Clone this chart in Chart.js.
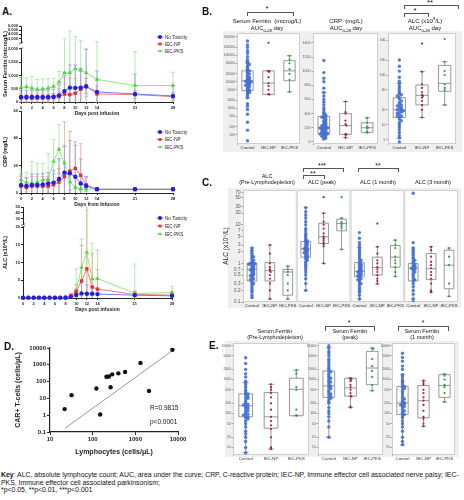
<!DOCTYPE html>
<html>
<head>
<meta charset="utf-8">
<script src="https://cdn.jsdelivr.net/npm/chart.js@4.4.0/dist/chart.umd.min.js"></script>
<style>
body { margin: 0; background: #fff; }
#fig { position: relative; width: 464px; height: 500px; overflow: hidden; font-family: "Liberation Sans", Arial, sans-serif; color: #111; }
#fig canvas { position: absolute; }
.t { position: absolute; white-space: nowrap; line-height: 1; }
.c { transform: translateX(-50%); text-align: center; }
.bg { position: absolute; background: #efefef; }
.br { position: absolute; border: 1px solid #555; border-bottom: none; }
.lt { position: absolute; font-weight: bold; font-size: 10px; }
sub, sup { font-size: 70%; line-height: 0; }
</style>
</head>
<body>
<div id="fig">
  <div class="bg" style="left:223px;top:31px;width:239px;height:121px"></div>
  <div class="bg" style="left:228px;top:188px;width:233px;height:120px"></div>
  <div class="bg" style="left:225px;top:341px;width:234px;height:116px"></div>

  <canvas id="a1" width="190" height="98" style="left:0;top:20px"></canvas>
  <canvas id="a2" width="190" height="104" style="left:0;top:105px"></canvas>
  <canvas id="a3" width="190" height="113" style="left:0;top:201px"></canvas>
  <canvas id="b1" width="82" height="128" style="left:222px;top:28px"></canvas>
  <canvas id="b2" width="84" height="128" style="left:298px;top:28px"></canvas>
  <canvas id="b3" width="87" height="128" style="left:373px;top:28px"></canvas>
  <canvas id="c1" width="240" height="124" style="left:222px;top:186px"></canvas>
  <canvas id="d1" width="178" height="118" style="left:12px;top:340px"></canvas>
  <canvas id="e1" width="91" height="128" style="left:222px;top:338px"></canvas>
  <canvas id="e2" width="81" height="128" style="left:306px;top:338px"></canvas>
  <canvas id="e3" width="79" height="128" style="left:380px;top:338px"></canvas>

  <div class="lt" style="left:2px;top:6px">A.</div>
  <div class="lt" style="left:202px;top:6px">B.</div>
  <div class="lt" style="left:202px;top:177px">C.</div>
  <div class="lt" style="left:4px;top:341px">D.</div>
  <div class="lt" style="left:209px;top:340px">E.</div>

  <!-- B titles and brackets -->
  <div class="t c" style="left:267px;top:5px;font-size:8px">*</div>
  <div class="br" style="left:247px;top:12px;width:45px;height:3px"></div>
  <div class="t c" style="left:430px;top:-1px;font-size:8px">**</div>
  <div class="br" style="left:404px;top:5px;width:53px;height:3px"></div>
  <div class="t c" style="left:415px;top:7px;font-size:8px">*</div>
  <div class="br" style="left:404px;top:13px;width:23px;height:3px"></div>
  <div class="t c" style="left:267px;top:18px;font-size:6px">Serum Ferritin&nbsp; (microg/L)</div>
  <div class="t c" style="left:267px;top:25px;font-size:6px">AUC<sub>0-28</sub> day</div>
  <div class="t c" style="left:346px;top:18px;font-size:6px">CRP&nbsp; (mg/L)</div>
  <div class="t c" style="left:346px;top:25px;font-size:6px">AUC<sub>0-28</sub> day</div>
  <div class="t c" style="left:425px;top:18px;font-size:6px">ALC (x10<sup>9</sup>/L)</div>
  <div class="t c" style="left:425px;top:25px;font-size:6px">AUC<sub>0-28</sub> day</div>

  <!-- C titles and brackets -->
  <div class="t c" style="left:322px;top:162px;font-size:7px">***</div>
  <div class="br" style="left:303px;top:168px;width:39px;height:3px"></div>
  <div class="t c" style="left:313px;top:170px;font-size:7px">**</div>
  <div class="br" style="left:303px;top:175px;width:20px;height:3px"></div>
  <div class="t c" style="left:378px;top:162px;font-size:7px">**</div>
  <div class="br" style="left:358px;top:168px;width:39px;height:3px"></div>
  <div class="t c" style="left:267px;top:174px;font-size:5.5px">ALC</div>
  <div class="t c" style="left:267px;top:180px;font-size:5.5px">(Pre-Lymphodepletion)</div>
  <div class="t c" style="left:322px;top:180px;font-size:5.5px">ALC (peak)</div>
  <div class="t c" style="left:378px;top:180px;font-size:5.5px">ALC (1 month)</div>
  <div class="t c" style="left:433px;top:180px;font-size:5.5px">ALC (3 month)</div>

  <!-- E titles and brackets -->
  <div class="t c" style="left:349px;top:319px;font-size:7px">*</div>
  <div class="br" style="left:325px;top:326px;width:48px;height:4px"></div>
  <div class="t c" style="left:423px;top:319px;font-size:7px">*</div>
  <div class="br" style="left:398px;top:326px;width:49px;height:4px"></div>
  <div class="t c" style="left:275px;top:329px;font-size:5.5px">Serum Ferritin</div>
  <div class="t c" style="left:275px;top:335px;font-size:5.5px">(Pre-Lymphodepletion)</div>
  <div class="t c" style="left:350px;top:329px;font-size:5.5px">Serum Ferritin</div>
  <div class="t c" style="left:350px;top:335px;font-size:5.5px">(peak)</div>
  <div class="t c" style="left:422px;top:329px;font-size:5.5px">Serum Ferritin</div>
  <div class="t c" style="left:422px;top:335px;font-size:5.5px">(1 month)</div>

  <!-- D annotations -->
  <div class="t" style="left:150px;top:405px;font-size:6.5px">R=0.9815</div>
  <div class="t" style="left:150px;top:419px;font-size:6.5px">p&lt;0.0001</div>

  <!-- key -->
  <div class="t" style="left:1px;top:472px;font-size:6.9px"><b>Key</b>: ALC, absolute lymphocyte count; AUC, area under the curve; CRP, C-reactive protein; IEC-NP, Immune effector cell associated nerve palsy; IEC-</div>
  <div class="t" style="left:1px;top:480px;font-size:6.9px">PKS, Immune effector cell associated parkinsonism;</div>
  <div class="t" style="left:1px;top:487px;font-size:6.9px">*p&lt;0.05, **p&lt;0.01, ***p&lt;0.001</div>
</div>

<script>
// ---- panel A: time courses (mean, error) ----
const days = [0,1,2,3,4,5,6,7,8,9,10,11,12,13,14,21,28];
const dayTicks = [0,2,4,6,8,10,12,14,21,28];

const ferNone  = [190,190,190,190,190,190,200,250,410,540,530,540,580,null,380,300,230];
const ferNoneSd= [250,250,250,250,250,250,280,400,600,850,860,720,1400,null,780,750,400];
const ferNP    = [150,150,150,150,150,150,160,200,300,280,330,480,600,null,300,280,200];
const ferNPSd  = [150,150,150,150,150,150,160,300,630,620,560,690,280,null,300,150,150];
const ferPKS   = [550,570,520,470,490,520,580,750,1100,1100,1250,1200,1100,null,850,620,620];
const ferPKSSd = [400,330,430,380,380,350,320,400,1840,3700,2250,1300,900,null,1350,1280,500];
const ferTicks = [0,500,1000,1500,2000,3000,4000,5000,6000];

const crpNone  = [5.9,5.1,5.9,5.9,6.3,7,7.6,10.2,14.9,14.4,11.9,7,5.1,null,2.7,2.7,2.7];
const crpNoneSd= [8,6,8,8,8,8,9,15,19,24,23,18,7,null,1,1,1];
const crpNP    = [5,4,5,5,5,5,6,8,12,16,18,13,6,null,2.7,2.7,2.7];
const crpNPSd  = [7,7,7,7,7,7,8,10,40,29,19.5,23,5,null,1,1,1];
const crpPKS   = [9.5,7.8,7,7.8,9.5,10,23,32,22,8,4,3,3,null,2.7,2.7,2.7];
const crpPKSSd = [7.5,7,16,14,12,19,16,18,13,6,1,1,1,null,1,1,1];
const crpTicks = [0,20,40,60];

const alcNone  = [0.1,0.1,0.1,0.1,0.1,0.1,0.1,0.1,0.1,0.3,0.85,1.3,1.2,1.2,1.1,0.8,0.6];
const alcNoneSd= [0,0,0,0,0,0,0,0,0.1,0.3,1.5,3,2.5,2,1.5,1,0.8];
const alcNP    = [0.1,0.1,0.1,0.1,0.1,0.1,0.1,0.1,0.2,0.65,1.8,4.8,8.2,3.1,2.5,1.0,0.8];
const alcNPSd  = [0,0,0,0,0,0,0,0,0.2,0.6,2,10,45,9.5,5.5,1,1];
const alcPKS   = [0.1,0.1,0.1,0.1,0.1,0.1,0.1,0.1,0.2,0.7,2.2,8.6,12.8,5.4,5.5,1.3,1.5];
const alcPKSSd = [0,0,0,0,0,0,0,0,0.2,0.6,6,8,32,10,8,8.3,1.7];
const alcTicks = [0,5,10,15,20,30,40,50];

const seriesNames = ['No Toxicity', 'IEC-NP', 'IEC-PKS'];

// ---- panel B: AUC 0-28 day ----
const groupNames = ['Control', 'IEC-NP', 'IEC-PKS'];
const ferAucCtrl = [350000,250000,200000,150000,120000,90000,70000,57000,50000,45000,40000,35000,30000,28000,26000,24000,22000,20000,18000,16000,15000,14000,13000,12000,11000,11000,10500,10000,9500,9000,8500,8000,7500,7000,6500,6000,5500,5000,4800,4500,4200,4000,3500,3000,2500,1500,1200,900,600,300,150,60];
const ferAucNP   = [300000,26000,25000,24000,15000,9000,7000,5000,3500,3300];
const ferAucPKS  = [97000,70000,50000,30000,20000,12000,4200];
const ferAucBox  = [[2500,4650,11000,26000,57000],[3300,3300,9000,26000,26000],[4200,11000,26000,63000,97000]];
const ferAucTicks= [100,200,500,1000,2000,5000,10000,20000,50000,100000,200000,500000];

const crpAucCtrl = [1150,980,900,850,760,700,650,600,560,520,480,450,420,400,380,370,360,350,340,320,300,290,280,260,250,240,230,220,210,200,200,195,190,180,170,160,150,140,130,125,120,115,110,100,90,80,70,55,40];
const crpAucNP   = [570,420,400,300,250,230,110,105,100,60];
const crpAucPKS  = [340,270,220,200,190,150,130];
const crpAucBox  = [[40,117,200,360,700],[60,105,230,400,570],[130,135,200,270,340]];
const crpAucTicks= [0,200,400,600,800,1000,1200,1400];

const alcAucCtrl = [200,150,120,90,75,68,60,55,50,45,42,40,38,35,33,30,28,26,25,24,23,22,21,20,20,19,18,18,17,16,15,15,14,13,12,11,10,9,8,7,6,5.4,4.5];
const alcAucNP   = [430,117,65,55,45,40,38,35,30,25,20,14];
const alcAucPKS  = [530,185,120,100,65,55,50,25];
const alcAucBox  = [[5.4,14,20,35,68],[14,25,39,63,117],[25,47,68,156,185]];
const alcAucTicks= [5,10,20,50,100,200,500];

// ---- panel C: ALC at time points ----
const alcPreCtrl = [2.5,2.2,2.0,1.8,1.6,1.5,1.4,1.3,1.2,1.1,1.05,1.0,1.0,0.98,0.95,0.9,0.85,0.8,0.75,0.72,0.7,0.68,0.65,0.6,0.58,0.55,0.52,0.5,0.48,0.45,0.42,0.4,0.38,0.35,0.32,0.3,0.28,0.25,0.22,0.2,0.18,0.15,0.13];
const alcPreNP   = [3.0,1.8,1.0,0.8,0.7,0.65,0.6,0.5,0.4,0.3,0.2,0.12];
const alcPrePKS  = [0.85,0.7,0.6,0.5,0.3,0.2,0.12];
const alcPeakCtrl= [28,22,18,15,12,10,8,7,6,5.5,5,4.5,4,3.8,3.6,3.4,3.2,3.0,2.8,2.6,2.5,2.4,2.3,2.2,2.1,2.0,1.9,1.8,1.7,1.6,1.5,1.45,1.4,1.3,1.2,1.1,1.0,0.9,0.8,0.7,0.6,0.5,0.4,0.3,0.2];
const alcPeakNP  = [52,20,12,10,8,6,5,4.5,4,3.5,3.2,2.8,1.0];
const alcPeakPKS = [52,15,12,11,10,9,8,2.3];
const alcM1Ctrl  = [6.3,4.5,3.5,3.0,2.6,2.3,2.0,1.8,1.6,1.4,1.3,1.2,1.1,1.0,0.95,0.9,0.85,0.8,0.75,0.7,0.68,0.65,0.62,0.6,0.58,0.55,0.52,0.5,0.48,0.45,0.42,0.4,0.38,0.35,0.32,0.3,0.28,0.25,0.22,0.2,0.18,0.15,0.12];
const alcM1NP    = [10.8,2.7,1.8,1.2,1.0,0.8,0.7,0.6,0.5,0.4,0.35,0.3];
const alcM1PKS   = [4.0,3.0,2.5,1.5,1.2,1.0,0.8,0.6,0.46];
const alcM3Ctrl  = [66,3.45,2.5,2.2,2.0,1.8,1.6,1.4,1.3,1.2,1.1,1.0,0.95,0.9,0.85,0.8,0.78,0.75,0.72,0.7,0.65,0.6,0.55,0.5,0.45,0.4,0.38,0.35,0.3,0.25,0.2,0.16,0.12,0.1];
const alcM3NP    = [2.7,2.2,1.5,1.1,0.9,0.75,0.6,0.5,0.4,0.3,0.2,0.18];
const alcM3PKS   = [2.5,1.5,0.9,0.3,0.14];
const alcTimeBox = [[0.13,0.35,0.7,1.0,2.5],[0.12,0.35,0.65,1.05,3.0],[0.12,0.15,0.6,0.7,0.85],
                    [0.2,1.45,2.4,3.7,28],[1.0,3.3,4.9,11,20],[2.3,7,10.8,14,15],
                    [0.12,0.45,0.62,1.05,2.6],[0.29,0.5,0.78,1.45,2.7],[0.46,0.8,1.45,2.9,4.0],
                    [0.12,0.35,0.75,1.0,2.5],[0.18,0.38,0.73,1.8,2.7],[0.14,0.22,0.9,2.2,2.5]];
const alcTimeTicks = [0.1,0.2,0.3,0.5,0.7,1,2,3,5,7,10,20,30,50,70];

// ---- panel D: CAR+ T-cells vs lymphocytes ----
const lymph = [22,32,122,150,210,240,263,287,400,575,1320,2090,7400];
const carT  = [2.3,15.6,39,1.1,195,200,46,270,310,370,1300,28,7900];
const fitX  = [22,8000];
const fitY  = [0.16,8000];

// ---- panel E: serum ferritin at time points ----
const ferPreCtrl = [4400,3000,2000,1500,1200,900,810,700,600,500,450,400,380,350,320,300,280,250,220,200,190,180,170,160,150,140,130,120,110,100,95,90,85,80,75,70,60,50,40,30,25,20,15,10,7];
const ferPreNP   = [730,600,500,400,300,200,130,80,60,45,35,20,10,9];
const ferPrePKS  = [1900,1500,600,500,130,90,86];
const ferPreBox  = [[7,80,170,380,810],[9,37,80,415,730],[86,86,520,1100,1900]];
const ferPeakCtrl= [10000,8700,7000,6000,5000,4000,3500,3000,2500,2200,2000,1800,1700,1500,1300,1200,1100,1000,900,850,800,700,650,600,550,500,450,400,380,350,320,300,280,250,220,200,150,120,100,80,60,40,20];
const ferPeakNP  = [1100,1050,1000,900,700,600,500,400,330,320,160,150];
const ferPeakPKS = [8500,8000,4000,2500,1800,1200,700,470];
const ferPeakBox = [[20,300,650,1800,8700],[150,325,570,1100,1100],[470,710,2200,6800,8500]];
const ferM1Ctrl  = [6000,4500,3500,2500,2000,1400,1200,1000,900,800,700,630,600,550,500,450,400,350,300,270,250,230,210,200,190,180,170,160,150,130,120,110,100,93,85,75,60,50,40,30,20,15,12];
const ferM1NP    = [930,800,700,500,400,300,240,180,120,80,70,50,42];
const ferM1PKS   = [1450,1300,1000,700,600,400,220];
const ferM1Box   = [[12,93,205,630,1400],[42,75,240,670,930],[220,300,670,1400,1450]];
const ferTimeTicks = [10,20,50,100,200,500,1000,2000,5000,10000];

Chart.defaults.font.family = '"Liberation Sans", Arial, sans-serif';
Chart.defaults.color = '#222';

// linear scale with a compressed upper segment (axis break)
class BrokenScale extends Chart.LinearScale {
  getPixelForValue(v) {
    if (v === null || v === undefined || isNaN(v)) return NaN;
    const b = this.options.brk;
    const d = v <= b.at
      ? (v - this.min) / (b.at - this.min) * b.frac
      : b.frac + b.gap + (v - b.at) / (this.max - b.at) * (1 - b.frac - b.gap);
    return this.getPixelForDecimal(d);
  }
}
BrokenScale.id = 'broken';
BrokenScale.defaults = {};
Chart.register(BrokenScale);

const errorBars = {
  id: 'errorBars',
  beforeDatasetsDraw(chart) {
    const ctx = chart.ctx, y = chart.scales.y;
    for (let di = chart.data.datasets.length - 1; di >= 0; di--) {
      const ds = chart.data.datasets[di];
      if (!ds.err) continue;
      const meta = chart.getDatasetMeta(di);
      ctx.save();
      ctx.strokeStyle = ds.errColor;
      ctx.lineWidth = 0.8;
      ds.data.forEach((p, i) => {
        if (p.y == null || !ds.err[i]) return;
        const x = meta.data[i].x;
        const hiV = p.y + ds.err[i], loV = p.y - ds.err[i];
        const top = y.getPixelForValue(Math.min(y.max, hiV));
        const bot = y.getPixelForValue(Math.max(y.min, loV));
        ctx.beginPath();
        ctx.moveTo(x, top); ctx.lineTo(x, bot);
        if (hiV <= y.max) { ctx.moveTo(x - 2, top); ctx.lineTo(x + 2, top); }
        if (loV >= y.min) { ctx.moveTo(x - 2, bot); ctx.lineTo(x + 2, bot); }
        ctx.stroke();
      });
      ctx.restore();
    }
  }
};

const axisBreak = {
  id: 'axisBreak',
  afterDraw(chart) {
    const y = chart.scales.y, b = y.options.brk;
    if (!b) return;
    const ctx = chart.ctx, x = chart.chartArea.left;
    const lo = y.getPixelForDecimal(b.frac), hi = y.getPixelForDecimal(b.frac + b.gap);
    ctx.save();
    ctx.fillStyle = '#fff';
    ctx.fillRect(x - 3, hi + 0.5, 5, lo - hi - 1);
    ctx.strokeStyle = '#222'; ctx.lineWidth = 0.7;
    ctx.beginPath();
    ctx.moveTo(x - 2, lo + 0.5); ctx.lineTo(x + 2, lo - 1);
    ctx.moveTo(x - 2, hi + 1); ctx.lineTo(x + 2, hi - 0.5);
    ctx.stroke();
    ctx.restore();
  }
};

function miniLegend(lx, ly, dy) {
  return {
    id: 'miniLegend',
    afterDraw(chart) {
      const ctx = chart.ctx;
      chart.data.datasets.forEach((ds, i) => {
        const y = ly + i * dy;
        ctx.save();
        ctx.strokeStyle = ds.borderColor; ctx.lineWidth = 1;
        ctx.beginPath(); ctx.moveTo(lx - 3.5, y); ctx.lineTo(lx + 3.5, y); ctx.stroke();
        ctx.fillStyle = ds.pointBackgroundColor;
        Chart.helpers.drawPoint(ctx, {pointStyle: ds.pointStyle, radius: 2, borderWidth: 0, rotation: 0}, lx, y);
        ctx.fillStyle = '#222';
        ctx.font = '4.6px "Liberation Sans", Arial, sans-serif';
        ctx.textBaseline = 'middle';
        ctx.fillText(ds.label, lx + 5, y + 0.3);
        ctx.restore();
      });
    }
  };
}

const aStyles = [
  {mark: '#1f1fe6', line: '#7a7af0', err: '#9a9ae8', style: 'circle', r: 2.2},
  {mark: '#ee2a2a', line: '#f07a7a', err: '#eba58a', style: 'rect', r: 2.4},
  {mark: '#4fd63f', line: '#8fe88a', err: '#9fe69a', style: 'triangle', r: 2.6}
];

function timeChart(id, vals, sds, yScale, xTitle, yTitle, lay, leg) {
  const datasets = vals.map((v, k) => ({
    label: seriesNames[k],
    data: days.map((d, i) => ({x: d, y: v[i]})),
    err: sds[k],
    errColor: aStyles[k].err,
    borderColor: aStyles[k].line,
    backgroundColor: aStyles[k].mark,
    pointBackgroundColor: aStyles[k].mark,
    pointBorderWidth: 0,
    pointStyle: aStyles[k].style,
    pointRadius: aStyles[k].r,
    borderWidth: 1,
    spanGaps: true,
    clip: false
  }));
  return new Chart(document.getElementById(id), {
    type: 'line',
    data: {datasets},
    plugins: [errorBars, axisBreak, miniLegend(leg[0], leg[1], leg[2])],
    options: {
      animation: false, responsive: false, events: [],
      layout: {padding: {top: lay.top, right: lay.right}},
      plugins: {legend: {display: false}, tooltip: {enabled: false}},
      scales: {
        x: {
          type: 'linear', min: 0, max: 28,
          grid: {drawOnChartArea: false, tickLength: 2, color: '#222'},
          border: {color: '#222'},
          afterBuildTicks: s => { s.ticks = dayTicks.map(v => ({value: v})); },
          ticks: {font: {size: 4, weight: 'bold'}, padding: 1, maxRotation: 0, autoSkip: false},
          title: {display: true, text: xTitle, font: {size: 5, weight: 'bold'}, padding: {top: 1, bottom: 1}},
          afterFit: s => { s.height = lay.xh; }
        },
        y: Object.assign({
          grid: {drawOnChartArea: false, tickLength: 2, color: '#222'},
          border: {color: '#222'},
          ticks: {font: {size: 4, weight: 'bold'}, padding: 1, autoSkip: false},
          title: {display: true, text: yTitle, font: {size: 5.5, weight: 'bold'}, padding: {top: 2, bottom: 1}},
          afterFit: s => { s.width = lay.yw; }
        }, yScale)
      }
    }
  });
}

timeChart('a1', [ferNone, ferNP, ferPKS], [ferNoneSd, ferNPSd, ferPKSSd],
  {type: 'broken', min: 0, max: 6000, brk: {at: 2000, frac: 0.70, gap: 0.08},
   afterBuildTicks: s => { s.ticks = ferTicks.map(v => ({value: v})); }},
  'Days post infusion', 'Serum Ferritin (microg/L)', {top: 6, right: 17, xh: 16, yw: 21}, [160, 17, 7]);

timeChart('a2', [crpNone, crpNP, crpPKS], [crpNoneSd, crpNPSd, crpPKSSd],
  {type: 'linear', min: 0, max: 60,
   afterBuildTicks: s => { s.ticks = crpTicks.map(v => ({value: v})); }},
  'Days from Infusion', 'CRP (mg/L)', {top: 6, right: 17, xh: 16, yw: 21}, [160, 27, 7.5]);

timeChart('a3', [alcNone, alcNP, alcPKS], [alcNoneSd, alcNPSd, alcPKSSd],
  {type: 'broken', min: 0, max: 50, brk: {at: 20, frac: 0.78, gap: 0.03},
   afterBuildTicks: s => { s.ticks = alcTicks.map(v => ({value: v})); }},
  'Days post infusion', 'ALC (x10\u2079/L)', {top: 6, right: 18, xh: 16, yw: 23}, [160, 17, 8]);

// ---- box + swarm charts ----
const ptColors = ['rgba(66,112,212,0.9)', '#a3243a', '#35a043'];

function swarm(vals, center, log, bin, dx) {
  const counts = {};
  return vals.map(v => {
    const k = Math.round((log ? Math.log10(v) : v) / bin);
    const n = counts[k] = (counts[k] || 0) + 1;
    let off = n === 1 ? 0 : (n % 2 ? -1 : 1) * Math.floor(n / 2) * dx;
    off = Math.max(-0.4, Math.min(0.4, off));
    return {x: center + off, y: v};
  });
}

function boxPlugin(boxes) {
  return {
    id: 'boxPlot',
    beforeDatasetsDraw(chart) {
      const {ctx, chartArea: a, scales: {x, y}} = chart;
      ctx.save();
      for (let p = 0; p < boxes.length / 3; p++) {
        const l = x.getPixelForValue(p * 3), r = x.getPixelForValue(p * 3 + 3);
        ctx.fillStyle = '#fff';
        ctx.fillRect(l, a.top, r - l, a.bottom - a.top);
        ctx.strokeStyle = '#cfcfcf'; ctx.lineWidth = 1;
        ctx.strokeRect(l + 0.5, a.top + 0.5, r - l - 1, a.bottom - a.top - 1);
      }
      ctx.strokeStyle = '#7d7d7d'; ctx.lineWidth = 0.8;
      boxes.forEach((s, i) => {
        const cx = x.getPixelForValue(i + 0.5);
        const hw = x.getPixelForValue(i + 0.5 + 0.27) - cx;
        const cw = x.getPixelForValue(i + 0.5 + 0.12) - cx;
        const [mn, q1, md, q3, mx] = s.map(v => y.getPixelForValue(v));
        ctx.beginPath();
        ctx.rect(cx - hw, q3, 2 * hw, q1 - q3);
        ctx.moveTo(cx - hw, md); ctx.lineTo(cx + hw, md);
        ctx.moveTo(cx, q3); ctx.lineTo(cx, mx);
        ctx.moveTo(cx, q1); ctx.lineTo(cx, mn);
        ctx.moveTo(cx - cw, mx); ctx.lineTo(cx + cw, mx);
        ctx.moveTo(cx - cw, mn); ctx.lineTo(cx + cw, mn);
        ctx.stroke();
      });
      ctx.restore();
    }
  };
}

function boxChart(id, groups, boxes, yCfg, lay) {
  const log = yCfg.type === 'logarithmic';
  const datasets = groups.map((pts, i) => ({
    data: swarm(pts, i + 0.5, log, yCfg.bin, i % 3 === 0 ? 0.09 : 0.04),
    backgroundColor: ptColors[i % 3],
    pointRadius: i % 3 === 0 ? 1.7 : 1.1,
    borderWidth: 0
  }));
  return new Chart(document.getElementById(id), {
    type: 'scatter',
    data: {datasets},
    plugins: [boxPlugin(boxes)],
    options: {
      animation: false, responsive: false, events: [],
      layout: {padding: {top: lay.top, right: lay.right}},
      plugins: {legend: {display: false}, tooltip: {enabled: false}},
      scales: {
        x: {
          type: 'linear', min: 0, max: groups.length,
          grid: {display: false, drawTicks: false, tickLength: 0}, border: {display: false},
          afterBuildTicks: s => { s.ticks = groups.map((g, i) => ({value: i + 0.5})); },
          ticks: {callback: (v, i) => groupNames[i % 3], font: {size: 4.3}, color: '#333', padding: 1.5, maxRotation: 0, autoSkip: false},
          afterFit: s => { s.height = lay.xh; }
        },
        y: {
          type: yCfg.type, min: yCfg.min, max: yCfg.max, bounds: 'data',
          grid: {drawOnChartArea: false, tickLength: 1.5, color: '#999'},
          border: {color: '#aaa'},
          afterBuildTicks: s => { s.ticks = yCfg.ticks.map(v => ({value: v})); },
          ticks: {callback: v => String(v), font: {size: yCfg.font}, color: '#555', padding: 1, autoSkip: false},
          title: yCfg.title ? {display: true, text: yCfg.title, font: {size: 6.5}, color: '#222', padding: {top: 0, bottom: 1}} : {display: false},
          afterFit: s => { s.width = lay.yw; }
        }
      }
    }
  });
}

const bLay = {top: 5, right: 2, xh: 12, yw: 15};
boxChart('b1', [ferAucCtrl, ferAucNP, ferAucPKS], ferAucBox,
  {type: 'logarithmic', min: 45, max: 700000, ticks: ferAucTicks, bin: 0.06, font: 3.2}, bLay);
boxChart('b2', [crpAucCtrl, crpAucNP, crpAucPKS], crpAucBox,
  {type: 'linear', min: -30, max: 1540, ticks: crpAucTicks, bin: 30, font: 3.6}, bLay);
boxChart('b3', [alcAucCtrl, alcAucNP, alcAucPKS], alcAucBox,
  {type: 'logarithmic', min: 4.1, max: 700, ticks: alcAucTicks, bin: 0.05, font: 3.4}, bLay);

boxChart('c1', [alcPreCtrl, alcPreNP, alcPrePKS, alcPeakCtrl, alcPeakNP, alcPeakPKS,
                alcM1Ctrl, alcM1NP, alcM1PKS, alcM3Ctrl, alcM3NP, alcM3PKS], alcTimeBox,
  {type: 'logarithmic', min: 0.1, max: 80, ticks: alcTimeTicks, bin: 0.05, font: 4.6, title: 'ALC (x10\u2079/L)'},
  {top: 4, right: 2, xh: 8, yw: 21});

const eLay = {top: 5, right: 2, xh: 11, yw: 11};
boxChart('e1', [ferPreCtrl, ferPreNP, ferPrePKS], ferPreBox,
  {type: 'logarithmic', min: 6, max: 12000, ticks: ferTimeTicks, bin: 0.06, font: 3.2}, eLay);
boxChart('e2', [ferPeakCtrl, ferPeakNP, ferPeakPKS], ferPeakBox,
  {type: 'logarithmic', min: 6, max: 12000, ticks: ferTimeTicks, bin: 0.06, font: 3.2}, Object.assign({}, eLay, {yw: 12}));
boxChart('e3', [ferM1Ctrl, ferM1NP, ferM1PKS], ferM1Box,
  {type: 'logarithmic', min: 6, max: 12000, ticks: ferTimeTicks, bin: 0.06, font: 3.2}, Object.assign({}, eLay, {yw: 12}));

// ---- D scatter, log-log ----
new Chart(document.getElementById('d1'), {
  type: 'scatter',
  data: {datasets: [
    {data: lymph.map((v, i) => ({x: v, y: carT[i]})), backgroundColor: '#111', pointRadius: 2.2, borderWidth: 0},
    {type: 'line', data: fitX.map((v, i) => ({x: v, y: fitY[i]})), borderColor: '#9a9a9a', borderWidth: 1, pointRadius: 0}
  ]},
  options: {
    animation: false, responsive: false, events: [],
    layout: {padding: {top: 8, right: 12}},
    plugins: {legend: {display: false}, tooltip: {enabled: false}},
    scales: {
      x: {
        type: 'logarithmic', min: 10, max: 10000, bounds: 'data',
        grid: {drawOnChartArea: false, tickLength: 3, color: '#222'},
        border: {color: '#222', width: 1.2},
        afterBuildTicks: s => { s.ticks = [10, 100, 1000, 10000].map(v => ({value: v})); },
        ticks: {callback: v => String(v), font: {size: 6, weight: 'bold'}, padding: 1, maxRotation: 0},
        title: {display: true, text: 'Lymphocytes (cells/\u03bcL)', font: {size: 7, weight: 'bold'}, padding: {top: 1, bottom: 2}},
        afterFit: s => { s.height = 26; }
      },
      y: {
        type: 'logarithmic', min: 0.1, max: 10000, bounds: 'data',
        grid: {drawOnChartArea: false, tickLength: 3, color: '#222'},
        border: {color: '#222', width: 1.2},
        afterBuildTicks: s => { s.ticks = [0.1, 1, 10, 100, 1000, 10000].map(v => ({value: v})); },
        ticks: {callback: v => String(v), font: {size: 6, weight: 'bold'}, padding: 1},
        title: {display: true, text: 'CAR+ T-cells (cells/\u03bcL)', font: {size: 7, weight: 'bold'}, padding: {top: 2, bottom: 1}},
        afterFit: s => { s.width = 38; }
      }
    }
  }
});
</script>
</body>
</html>
